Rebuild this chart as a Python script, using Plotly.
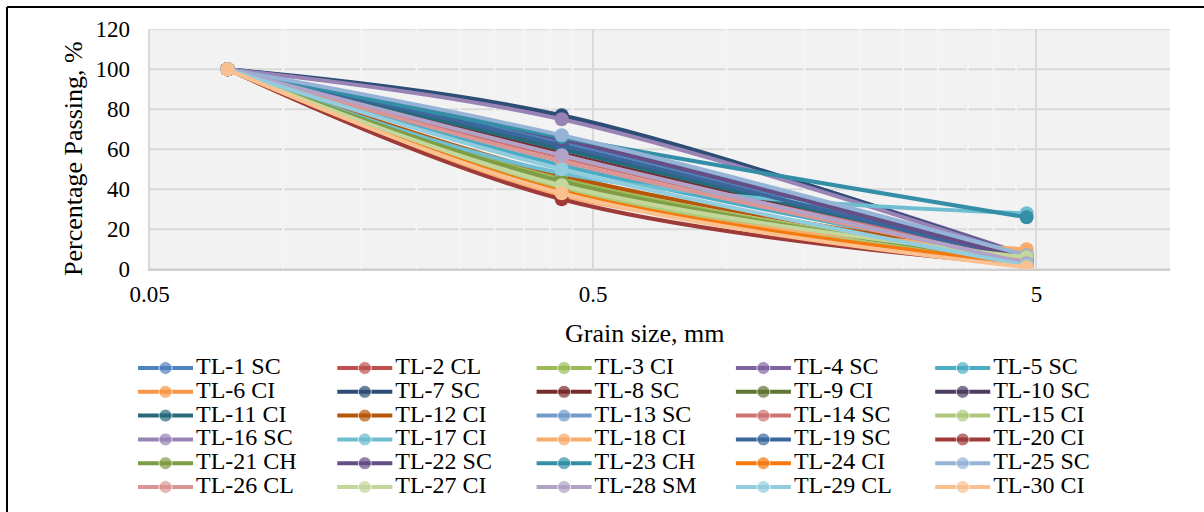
import plotly.graph_objects as go

W, H = 1204, 512
FONT = "Liberation Serif"

# ---------------- data ----------------
sieve_mm = [0.075, 0.425, 4.75]

sample_names = [
    "TL-1 SC", "TL-2 CL", "TL-3 CI", "TL-4 SC", "TL-5 SC",
    "TL-6 CI", "TL-7 SC", "TL-8 SC", "TL-9 CI", "TL-10 SC",
    "TL-11 CI", "TL-12 CI", "TL-13 SC", "TL-14 SC", "TL-15 CI",
    "TL-16 SC", "TL-17 CI", "TL-18 CI", "TL-19 SC", "TL-20 CI",
    "TL-21 CH", "TL-22 SC", "TL-23 CH", "TL-24 CI", "TL-25 SC",
    "TL-26 CL", "TL-27 CI", "TL-28 SM", "TL-29 CL", "TL-30 CI",
]

passing_0075 = [100, 100, 100, 100, 100, 100, 100, 100, 100, 100,
                100, 100, 100, 100, 100, 100, 100, 100, 100, 100,
                100, 100, 100, 100, 100, 100, 100, 100, 100, 100]
passing_0425 = [64, 42, 45, 76, 52, 40, 77, 58, 43, 61,
                60, 47, 66, 56, 41, 75, 48, 37, 62, 35,
                44, 65, 66, 39, 67, 54, 42, 57, 50, 38]
passing_475 = [5, 3, 4, 7, 5, 8, 6, 4, 3, 5,
               4, 6, 6, 5, 3, 6, 28, 10, 4, 2,
               4, 5, 26, 3, 7, 4, 6, 3, 2, 1]

series_colors = [
    "#4F81BD", "#C0504D", "#9BBB59", "#8064A2", "#4BACC6",
    "#F79646", "#2C4D75", "#772C2A", "#5F7530", "#4D3B62",
    "#276A7C", "#B65708", "#729ACA", "#CD7371", "#AFC97A",
    "#9983B5", "#6FBDD1", "#F9AB6B", "#3A679C", "#9E3B38",
    "#7E9D46", "#654E85", "#348FA6", "#F47A10", "#95B3D7",
    "#D99694", "#C3D69B", "#B2A2C7", "#93CDDD", "#FAC090",
]

x_tick_vals = [0.05, 0.5, 5]
x_tick_text = ["0.05", "0.5", "5"]
x_minor_vals = [0.1, 0.15, 0.2, 0.25, 0.3, 0.35, 0.4, 0.45,
                1.0, 1.5, 2.0, 2.5, 3.0, 3.5, 4.0, 4.5]
y_tick_vals = [0, 20, 40, 60, 80, 100, 120]

# ---------------- figure ----------------
fig = go.Figure()

for i, name in enumerate(sample_names):
    fig.add_trace(go.Scatter(
        x=sieve_mm,
        y=[passing_0075[i], passing_0425[i], passing_475[i]],
        mode="lines+markers",
        name=name,
        line=dict(color=series_colors[i], width=4, shape="spline"),
        marker=dict(color=series_colors[i], size=14),
        showlegend=False,
        xaxis="x", yaxis="y",
    ))

# ---------------- custom legend (5 columns x 6 rows) ----------------
n_cols = 5
col_x0 = 138.0
col_step = 199.3
row_y0 = 368.0
row_step = 23.8
sym_len = 55.0

text_x, text_y = [], []
for i, name in enumerate(sample_names):
    r, c = divmod(i, n_cols)
    x0 = col_x0 + c * col_step
    yy = row_y0 + r * row_step
    fig.add_trace(go.Scatter(
        x=[x0, x0 + sym_len / 2, x0 + sym_len],
        y=[yy, yy, yy],
        mode="lines+markers",
        line=dict(color=series_colors[i], width=4),
        marker=dict(color=series_colors[i], size=[0, 13, 0]),
        showlegend=False, hoverinfo="skip",
        xaxis="x2", yaxis="y2",
    ))
    text_x.append(x0 + sym_len + 3)
    text_y.append(yy)

fig.add_trace(go.Scatter(
    x=text_x, y=text_y, text=sample_names,
    mode="text", textposition="middle right",
    textfont=dict(family=FONT, size=24, color="black"),
    showlegend=False, hoverinfo="skip", cliponaxis=False,
    xaxis="x2", yaxis="y2",
))

# plot-area background (only the main chart is grey)
fig.add_shape(type="rect", xref="x domain", yref="y domain",
              x0=0, x1=1, y0=0, y1=1, layer="below",
              fillcolor="#F2F2F2", line=dict(width=0))

# horizontal major gridlines
for v in y_tick_vals:
    fig.add_shape(type="line", xref="x domain", yref="y",
                  x0=0, x1=1, y0=v, y1=v, layer="below",
                  line=dict(color="#D9D9D9", width=2))

# minor vertical gridlines (same tone as background, cut the horizontals)
for v in x_minor_vals:
    fig.add_shape(type="line", xref="x", yref="y domain",
                  x0=v, x1=v, y0=0, y1=1, layer="below",
                  line=dict(color="#F4F4F4", width=2))

# outer frame (left and top edges visible)
fig.add_shape(type="line", xref="paper", yref="paper",
              x0=7 / W, x1=7 / W, y0=0, y1=1 - 7 / H,
              line=dict(color="black", width=2), layer="above")
fig.add_shape(type="line", xref="paper", yref="paper",
              x0=7 / W, x1=1, y0=1 - 7 / H, y1=1 - 7 / H,
              line=dict(color="black", width=2), layer="above")

# axis titles
fig.add_annotation(text="Percentage Passing, %", xref="paper", yref="paper",
                   x=73 / W, y=1 - 159 / H, xanchor="center", yanchor="middle",
                   textangle=-90, showarrow=False,
                   font=dict(family=FONT, size=26, color="black"))
fig.add_annotation(text="Grain size, mm", xref="paper", yref="paper",
                   x=645 / W, y=1 - 333 / H, xanchor="center", yanchor="middle",
                   showarrow=False,
                   font=dict(family=FONT, size=26, color="black"))

fig.update_layout(
    template="none",
    width=W, height=H, autosize=False,
    margin=dict(l=0, r=0, t=0, b=0, pad=0, autoexpand=False),
    paper_bgcolor="white",
    plot_bgcolor="white",
    font=dict(family=FONT, size=23, color="black"),
    xaxis=dict(
        type="log",
        domain=[149.5 / W, 1170 / W],
        range=[-1.30103, 1.0],
        tickvals=x_tick_vals, ticktext=x_tick_text,
        showgrid=True, gridcolor="#D9D9D9", gridwidth=2,
        showline=True, linecolor="#CFCFCF", linewidth=2,
        ticks="", ticklabelstandoff=3, automargin=False,
        tickfont=dict(family=FONT, size=23, color="black"),
        zeroline=False, fixedrange=True, anchor="y",
    ),
    yaxis=dict(
        domain=[1 - 269.3 / H, 1 - 29.3 / H],
        range=[0, 120],
        tickvals=y_tick_vals,
        showgrid=False,
        showline=True, linecolor="#D9D9D9", linewidth=2,
        ticks="", ticklabelstandoff=13, automargin=False,
        tickfont=dict(family=FONT, size=23, color="black"),
        zeroline=False, fixedrange=True, anchor="x",
    ),
    xaxis2=dict(domain=[0, 1], range=[0, W], visible=False, automargin=False,
                fixedrange=True, anchor="y2"),
    yaxis2=dict(domain=[0, 1 - 345 / H], range=[H, 345], visible=False,
                automargin=False, fixedrange=True, anchor="x2"),
    showlegend=False,
)

fig.write_html("out.html", config={"displayModeBar": False},
               post_script="document.body.style.margin='0px';")
